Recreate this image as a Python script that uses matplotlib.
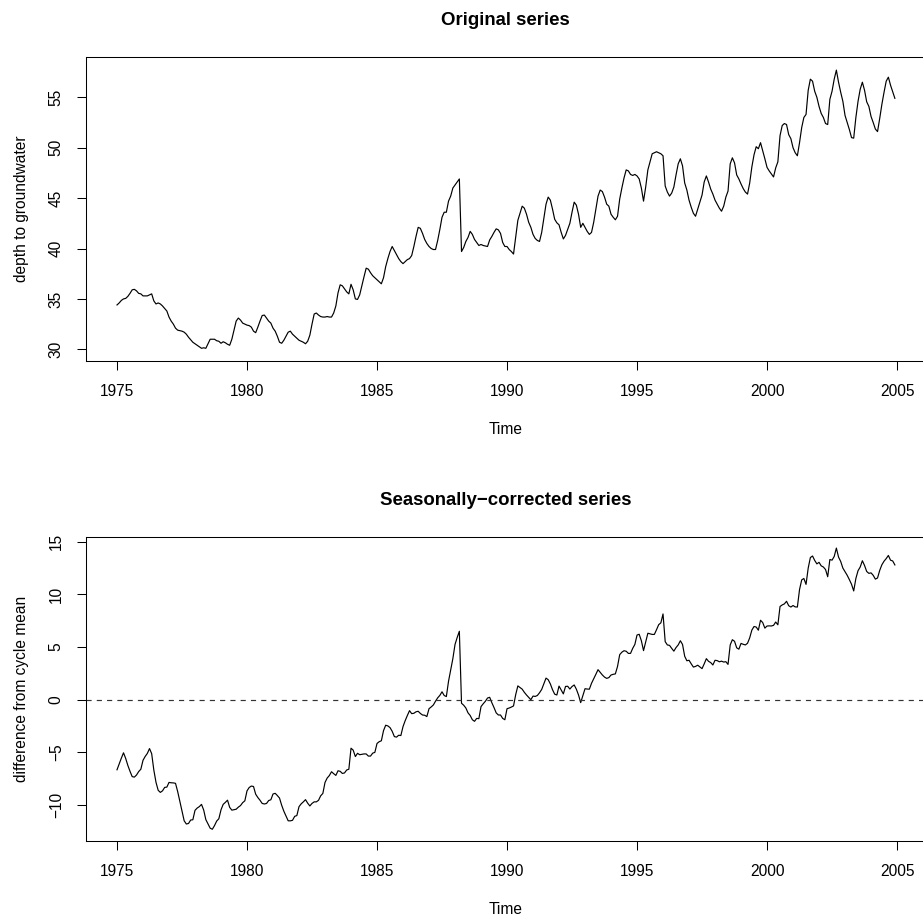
import numpy as np
import matplotlib
matplotlib.use("Agg")
import matplotlib.pyplot as plt

# Monthly depth to groundwater (m), one row per year, Jan..Dec
start_year = 1975
gw_1975 = [34.4, 34.6, 34.85, 35.0, 35.05, 35.25, 35.55, 35.9, 35.95, 35.8, 35.55, 35.5]
gw_1976 = [35.3, 35.3, 35.3, 35.4, 35.5, 34.8, 34.5, 34.6, 34.5, 34.3, 34.05, 33.8]
gw_1977 = [33.2, 32.8, 32.5, 32.1, 31.9, 31.85, 31.8, 31.7, 31.5, 31.2, 30.95, 30.7]
gw_1978 = [30.55, 30.4, 30.25, 30.1, 30.15, 30.1, 30.55, 31.0, 31.0, 31.0, 30.85, 30.8]
gw_1979 = [30.6, 30.75, 30.65, 30.5, 30.4, 31.0, 31.9, 32.8, 33.1, 32.9, 32.6, 32.5]
gw_1980 = [32.4, 32.35, 32.2, 31.8, 31.65, 32.2, 32.8, 33.35, 33.4, 33.1, 32.8, 32.6]
gw_1981 = [32.1, 31.8, 31.3, 30.7, 30.6, 30.9, 31.3, 31.7, 31.8, 31.5, 31.3, 31.1]
gw_1982 = [30.9, 30.8, 30.7, 30.55, 30.8, 31.4, 32.5, 33.5, 33.6, 33.4, 33.25, 33.2]
gw_1983 = [33.2, 33.25, 33.2, 33.2, 33.6, 34.3, 35.6, 36.4, 36.3, 36.0, 35.7, 35.5]
gw_1984 = [36.45, 35.9, 35.0, 34.95, 35.4, 36.3, 37.2, 38.05, 37.95, 37.6, 37.3, 37.1]
gw_1985 = [36.9, 36.7, 36.5, 37.1, 38.2, 39.0, 39.7, 40.2, 39.8, 39.4, 39.0, 38.7]
gw_1986 = [38.5, 38.7, 38.9, 39.0, 39.3, 40.2, 41.2, 42.1, 42.0, 41.5, 40.9, 40.5]
gw_1987 = [40.2, 40.0, 39.9, 39.9, 40.8, 41.9, 43.1, 43.6, 43.6, 44.7, 45.2, 46.0]
gw_1988 = [46.3, 46.6, 46.9, 39.7, 40.1, 40.7, 41.1, 41.7, 41.4, 40.9, 40.6, 40.3]
gw_1989 = [40.4, 40.3, 40.25, 40.2, 40.85, 41.2, 41.6, 41.95, 41.85, 41.5, 40.6, 40.2]
gw_1990 = [40.2, 39.9, 39.7, 39.45, 41.1, 42.8, 43.5, 44.2, 44.0, 43.4, 42.6, 42.1]
gw_1991 = [41.4, 41.0, 40.8, 40.7, 41.6, 43.0, 44.4, 45.1, 44.8, 43.9, 42.9, 42.55]
gw_1992 = [42.35, 41.6, 40.95, 41.3, 41.9, 42.5, 43.6, 44.6, 44.3, 43.4, 42.1, 42.5]
gw_1993 = [42.1, 41.7, 41.4, 41.6, 42.6, 43.9, 45.2, 45.8, 45.65, 45.1, 44.4, 44.2]
gw_1994 = [43.4, 43.1, 42.85, 43.2, 44.9, 46.0, 47.0, 47.8, 47.7, 47.35, 47.25, 47.35]
gw_1995 = [47.2, 46.9, 46.0, 44.7, 46.1, 47.8, 48.6, 49.4, 49.5, 49.6, 49.5, 49.4]
gw_1996 = [49.2, 46.2, 45.6, 45.2, 45.5, 46.1, 47.3, 48.4, 48.9, 48.2, 46.5, 45.8]
gw_1997 = [44.8, 44.1, 43.5, 43.2, 43.9, 44.6, 45.3, 46.6, 47.2, 46.6, 45.9, 45.4]
gw_1998 = [44.8, 44.4, 44.0, 43.7, 44.2, 45.1, 45.7, 48.4, 49.0, 48.5, 47.3, 46.9]
gw_1999 = [46.4, 45.95, 45.6, 45.4, 46.5, 48.1, 49.3, 50.1, 49.9, 50.5, 49.7, 48.9]
gw_2000 = [48.05, 47.7, 47.4, 47.1, 48.0, 48.6, 51.2, 52.2, 52.4, 52.3, 51.3, 50.9]
gw_2001 = [50.0, 49.5, 49.2, 50.5, 52.0, 53.0, 53.3, 55.7, 56.8, 56.6, 55.6, 55.0]
gw_2002 = [54.1, 53.4, 53.0, 52.4, 52.3, 54.8, 55.6, 56.8, 57.7, 56.5, 55.5, 54.6]
gw_2003 = [53.2, 52.5, 51.8, 51.0, 50.95, 53.0, 54.6, 55.8, 56.5, 55.7, 54.55, 54.1]
gw_2004 = [53.1, 52.5, 51.85, 51.6, 52.9, 54.3, 55.5, 56.6, 57.0, 56.2, 55.55, 54.9]

years = [gw_1975, gw_1976, gw_1977, gw_1978, gw_1979, gw_1980, gw_1981, gw_1982,
         gw_1983, gw_1984, gw_1985, gw_1986, gw_1987, gw_1988, gw_1989, gw_1990,
         gw_1991, gw_1992, gw_1993, gw_1994, gw_1995, gw_1996, gw_1997, gw_1998,
         gw_1999, gw_2000, gw_2001, gw_2002, gw_2003, gw_2004]

x_ticks = [1975, 1980, 1985, 1990, 1995, 2000, 2005]
y_ticks_top = [30, 35, 40, 45, 50, 55]
y_ticks_bottom = [-10, -5, 0, 5, 10, 15]

gw = np.array(years, dtype=float)              # (n_years, 12)
time = start_year + np.arange(gw.size) / 12.0
series = gw.ravel()
# seasonally-corrected: subtract the mean of each calendar month (cycle mean)
cycle_mean = gw.mean(axis=0)
corrected = (gw - cycle_mean).ravel()

plt.rcParams["font.family"] = ["Liberation Sans", "DejaVu Sans"]
plt.rcParams["lines.scale_dashes"] = False

W, H = 923, 916
fig = plt.figure(figsize=(W / 100, H / 100), dpi=100)

def px_axes(left, top, right, bottom):
    return fig.add_axes([left / W, 1 - bottom / H, (right - left) / W, (bottom - top) / H])

FS = 11.2
TFS = 13.4
xlim = (1973.796, 2006.11)

def style(ax, yticks):
    ax.set_xlim(*xlim)
    ax.set_xticks(x_ticks)
    ax.set_yticks(yticks)
    ax.set_yticklabels([f"{v}".replace("-", "\u2212") for v in yticks],
                       rotation=90, va="center")
    ax.tick_params(axis="both", direction="out", length=6.8, width=0.75,
                   labelsize=FS, color="black")
    ax.tick_params(axis="x", pad=10.3)
    ax.tick_params(axis="y", pad=9.0)
    for s in ax.spines.values():
        s.set_linewidth(0.75)
        s.set_color("black")

# Original series
ax1 = px_axes(85.7, 57.3, 925.9, 360.7)
ax1.plot(time, series, color="black", lw=0.85)
ax1.set_ylim(28.87, 58.97)
style(ax1, y_ticks_top)

# Seasonally-corrected series
ax2 = px_axes(85.7, 537.3, 925.9, 840.7)
ax2.plot(time, corrected, color="black", lw=0.85)
ax2.axhline(0, color="#333333", lw=0.85, dashes=(3.7, 3.7))
ax2.set_ylim(-13.39, 15.42)
style(ax2, y_ticks_bottom)

cx = (85.7 + 925.9) / 2 / W
fig.text(cx, 1 - 25 / H, "Original series", ha="center", va="baseline",
         fontsize=TFS, fontweight="bold")
fig.text(cx, 1 - 505 / H, "Seasonally\u2212corrected series", ha="center",
         va="baseline", fontsize=TFS, fontweight="bold")
fig.text(cx, 1 - 434 / H, "Time", ha="center", va="baseline", fontsize=FS)
fig.text(cx, 1 - 914 / H, "Time", ha="center", va="baseline", fontsize=FS)
fig.text(21.5 / W, 1 - 209 / H, "depth to groundwater", rotation=90,
         ha="center", va="center", fontsize=FS)
fig.text(21.5 / W, 1 - 689 / H, "difference from cycle mean", rotation=90,
         ha="center", va="center", fontsize=FS)

fig.savefig("out.png", dpi=100)
